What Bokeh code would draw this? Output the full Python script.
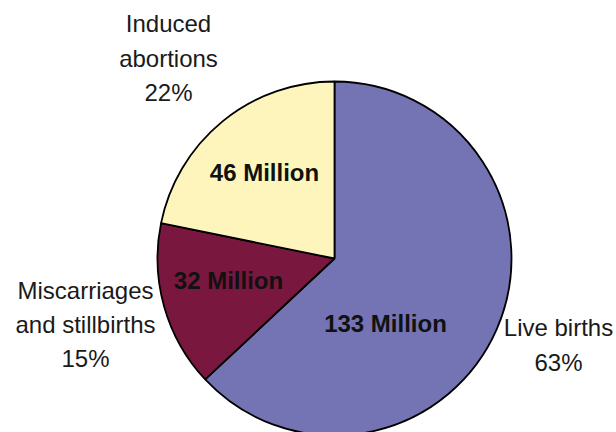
import math
from bokeh.plotting import figure
from bokeh.models import Range1d
from bokeh.core.properties import value
from bokeh.embed import file_html
from bokeh.resources import INLINE

categories = ["Live births", "Miscarriages and stillbirths", "Induced abortions"]
millions = [133, 32, 46]
percent_labels = ["63%", "15%", "22%"]
inner_labels = ["133 Million", "32 Million", "46 Million"]
colors = ["#7473B3", "#7A173F", "#FEF5BC"]

W, H = 616, 432
p = figure(width=W, height=H, output_backend="svg", toolbar_location=None,
           x_range=Range1d(0, W), y_range=Range1d(0, H), min_border=0,
           outline_line_color=None, background_fill_color="white")
p.axis.visible = False
p.grid.visible = False

cx, cy, r = 334, H - 258, 177
total = sum(millions)
start = math.pi / 2
starts, ends = [], []
for m in millions:
    a = 2 * math.pi * m / total
    starts.append(start)
    ends.append(start - a)
    start -= a

p.wedge(x=[cx] * 3, y=[cy] * 3, radius=r, start_angle=starts, end_angle=ends,
        direction="clock", fill_color=colors, line_color="#000000", line_width=1.8)

# inner labels (bold)
inner_pos = [(385, 323), (228, 280), (264, 172)]
p.text(x=[q[0] for q in inner_pos], y=[H - q[1] for q in inner_pos], text=inner_labels,
       text_font=value("Liberation Sans"), text_font_style="bold", text_font_size="24px",
       text_align="center", text_baseline="middle", text_color="#111111")

# outer labels
outer_lines = [
    (["Live births", percent_labels[0]], 558, [327, 362]),
    (["Miscarriages", "and stillbirths", percent_labels[1]], 85, [290, 324, 358]),
    (["Induced", "abortions", percent_labels[2]], 168, [23, 58, 92]),
]
xs, ys, ts = [], [], []
for lines, x, yl in outer_lines:
    for t, yy in zip(lines, yl):
        xs.append(x)
        ys.append(H - yy)
        ts.append(t)
p.text(x=xs, y=ys, text=ts, text_font=value("Liberation Sans"), text_font_size="24px",
       text_align="center", text_baseline="middle", text_color="#1a1a1a")

open("out.html", "w").write(file_html(p, INLINE))
